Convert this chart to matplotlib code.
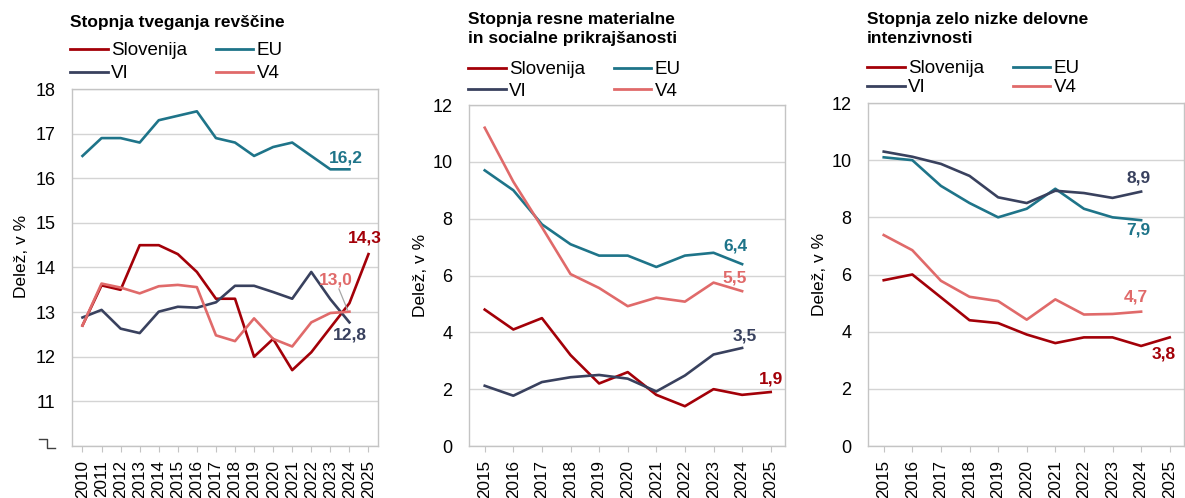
import matplotlib
matplotlib.use("Agg")
import matplotlib.pyplot as plt
from matplotlib.lines import Line2D

plt.rcParams["font.family"] = ["Liberation Sans", "DejaVu Sans"]

# --- data -------------------------------------------------------------
series_names = ["Slovenija", "EU", "VI", "V4"]
colors = {"Slovenija": "#A30008", "EU": "#1E7489", "VI": "#39415E", "V4": "#E06A6A"}

# panel 1: stopnja tveganja revščine
years_p1 = list(range(2010, 2026))
p1_slovenija = [12.7, 13.6, 13.5, 14.5, 14.5, 14.3, 13.9, 13.3, 13.3, 12.0, 12.4, 11.7, 12.1, 12.65, 13.2, 14.3]
p1_eu = [16.5, 16.9, 16.9, 16.8, 17.3, 17.4, 17.5, 16.9, 16.8, 16.5, 16.7, 16.8, 16.5, 16.2, 16.2]
p1_vi = [12.88, 13.05, 12.63, 12.53, 13.01, 13.12, 13.1, 13.22, 13.59, 13.59, 13.45, 13.3, 13.9, 13.29, 12.77]
p1_v4 = [12.7, 13.64, 13.55, 13.42, 13.58, 13.61, 13.56, 12.48, 12.35, 12.86, 12.4, 12.23, 12.77, 12.98, 13.01]

# panel 2: stopnja resne materialne in socialne prikrajšanosti
years_p2 = list(range(2015, 2026))
p2_slovenija = [4.8, 4.1, 4.5, 3.2, 2.2, 2.6, 1.8, 1.4, 2.0, 1.8, 1.9]
p2_eu = [9.7, 9.0, 7.8, 7.1, 6.7, 6.7, 6.3, 6.7, 6.8, 6.4]
p2_vi = [2.12, 1.77, 2.25, 2.42, 2.5, 2.37, 1.92, 2.48, 3.22, 3.45]
p2_v4 = [11.2, 9.3, 7.7, 6.05, 5.56, 4.92, 5.22, 5.08, 5.75, 5.45]

# panel 3: stopnja zelo nizke delovne intenzivnosti
years_p3 = list(range(2015, 2026))
p3_slovenija = [5.8, 6.0, 5.2, 4.4, 4.3, 3.9, 3.6, 3.8, 3.8, 3.5, 3.8]
p3_eu = [10.1, 10.0, 9.1, 8.5, 8.0, 8.3, 9.0, 8.3, 8.0, 7.9]
p3_vi = [10.3, 10.12, 9.87, 9.45, 8.7, 8.5, 8.93, 8.85, 8.68, 8.9]
p3_v4 = [7.38, 6.85, 5.78, 5.22, 5.07, 4.42, 5.13, 4.6, 4.62, 4.7]

titles = ["Stopnja tveganja revščine",
          "Stopnja resne materialne\nin socialne prikrajšanosti",
          "Stopnja zelo nizke delovne\nintenzivnosti"]

W, H = 1185, 498
fig = plt.figure(figsize=(W / 100, H / 100), dpi=100)


def px_rect(left, top, right, bottom):
    return [left / W, (H - bottom) / H, (right - left) / W, (bottom - top) / H]


grid_c = "#D4D4D4"
spine_c = "#C4C4C4"
# legend is filled column-wise, so this order gives rows Slovenija/EU and VI/V4
legend_order = ["Slovenija", "VI", "EU", "V4"]


def draw_panel(rect, years, data, ylim, yticks, title, title_xy, leg_xy, leg_gap, labels):
    ax = fig.add_axes(rect)
    for name, vals in zip(series_names, data):
        ax.plot(years[:len(vals)], vals, color=colors[name], lw=1.9,
                solid_joinstyle="round", label=name, zorder=3)
    ax.set_xlim(years[0] - 0.55, years[-1] + 0.5)
    ax.set_ylim(*ylim)
    ax.set_yticks(yticks)
    ax.set_xticks(years)
    ax.set_xticklabels([str(y) for y in years], rotation=90, fontsize=12.3)
    ax.tick_params(axis="y", length=0, labelsize=13, pad=12)
    ax.tick_params(axis="x", length=4, color=spine_c, pad=6)
    ax.grid(axis="y", color=grid_c, lw=1.0, zorder=0)
    for s in ax.spines.values():
        s.set_color(spine_c)
        s.set_linewidth(1.0)
    ax.set_ylabel("Delež, v %", fontsize=12.5, labelpad=3)
    fig.text(title_xy[0] / W, 1 - title_xy[1] / H, title, fontsize=12.5,
             fontweight="bold", ha="left", va="top", linespacing=1.3)
    handles = [Line2D([], [], color=colors[n], lw=2.0) for n in legend_order]
    fig.legend(handles, legend_order, loc="upper left",
               bbox_to_anchor=(leg_xy[0] / W, 1 - leg_xy[1] / H), ncol=2,
               frameon=False, fontsize=13.5, handlelength=2.0, handletextpad=0.2,
               columnspacing=1.5, labelspacing=leg_gap, borderpad=0, borderaxespad=0)
    for text, x, y, name in labels:
        ax.text(x, y, text, color=colors[name], fontsize=12.5, fontweight="bold",
                ha="center", va="center", zorder=4)
    return ax


ax1 = draw_panel(px_rect(72, 89, 378, 446), years_p1,
                 [p1_slovenija, p1_eu, p1_vi, p1_v4], (10, 18), range(10, 19),
                 titles[0], (70, 15), (70, 42), 0.32,
                 [("16,2", 2023.8, 16.45, "EU"), ("14,3", 2024.8, 14.65, "Slovenija"),
                  ("13,0", 2023.3, 13.72, "V4"), ("12,8", 2024.0, 12.48, "VI")])
ax1.set_yticklabels([""] + [str(v) for v in range(11, 19)])
ax1.yaxis.set_label_coords(-0.14, 0.53)
# leader line for the V4 label
ax1.plot([2023.45, 2023.9], [13.52, 13.05], color="#A6A6A6", lw=0.9, zorder=4)
# axis break symbol in place of the "10" label
fig.add_artist(Line2D([39 / W, 47 / W, 47 / W, 55 / W],
                      [1 - 439 / H, 1 - 439 / H, 1 - 448 / H, 1 - 448 / H],
                      color="#404040", lw=1.0))

draw_panel(px_rect(469, 105, 785, 446), years_p2,
           [p2_slovenija, p2_eu, p2_vi, p2_v4], (0, 12), range(0, 13, 2),
           titles[1], (468, 12), (468, 61), 0.24,
           [("6,4", 2023.75, 7.03, "EU"), ("5,5", 2023.75, 5.9, "V4"),
            ("3,5", 2024.1, 3.87, "VI"), ("1,9", 2025.0, 2.35, "Slovenija")])

draw_panel(px_rect(868, 103, 1184, 446), years_p3,
           [p3_slovenija, p3_eu, p3_vi, p3_v4], (0, 12), range(0, 13, 2),
           titles[2], (867, 12), (867, 60), 0.1,
           [("8,9", 2023.9, 9.37, "VI"), ("7,9", 2023.9, 7.54, "EU"),
            ("4,7", 2023.8, 5.23, "V4"), ("3,8", 2024.8, 3.23, "Slovenija")])

fig.savefig("out.png", dpi=100)
